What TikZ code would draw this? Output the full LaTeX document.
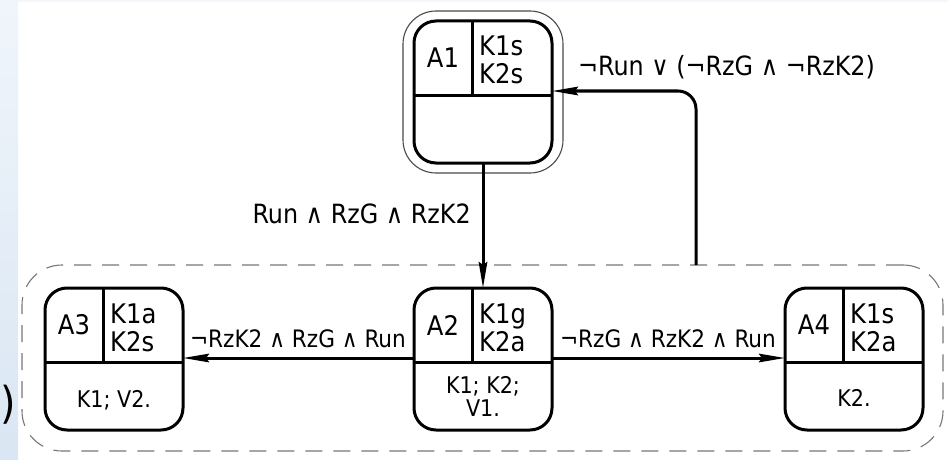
\documentclass[tikz,border=0pt]{standalone}
\usepackage{fontspec}
\setmainfont{DejaVu Sans Condensed}
\usetikzlibrary{arrows.meta,calc}
\definecolor{ringgray}{HTML}{4A4A4A}
\definecolor{dashgray}{HTML}{777777}
\definecolor{stripetop}{HTML}{F0F5FB}
\definecolor{stripebot}{HTML}{D9E6F3}
\definecolor{edgetint}{HTML}{F3F7FB}

\begin{document}
\begin{tikzpicture}[x=1pt,y=-1pt,
  statebox/.style={draw=black, line width=3pt, rounded corners=22pt,
    minimum width=138pt, minimum height=142pt, inner sep=0pt, outer sep=0pt},
  ringbox/.style={draw=ringgray, line width=1.1pt, rounded corners=33pt,
    minimum width=160pt, minimum height=162pt, inner sep=0pt, outer sep=0pt},
  groupbox/.style={draw=dashgray, line width=1.1pt, rounded corners=40pt,
    dash pattern=on 17pt off 11pt, minimum width=921pt, minimum height=186pt,
    inner sep=0pt, outer sep=0pt},
  divider/.style={line width=3pt},
  boxtext/.style={inner sep=0pt, font=\fontsize{27}{30}\selectfont},
  smalltext/.style={inner sep=0pt, font=\fontsize{23}{25}\selectfont},
  edgelabel/.style={inner sep=0pt, font=\fontsize{26.5}{30}\selectfont},
  sidelabel/.style={inner sep=0pt, font=\fontsize{24}{28}\selectfont},
  flow/.style={line width=3pt, -{Stealth[length=26pt,width=8.5pt,inset=3pt]}}
]
% canvas and margins
\fill[white] (0,0) rectangle (948,460);
\useasboundingbox (0,0) rectangle (948,460);
\shade[top color=stripetop, bottom color=stripebot] (0,0) rectangle (18,460);
\fill[edgetint] (18,0) rectangle (948,2);
\node[inner sep=0pt, font=\fontsize{44}{48}\selectfont] (paren) at (8,405) {)};

% dashed group around A2, A3, A4
\node[groupbox] (grp) at (482.5,358) {};

% states
\node[statebox] (a1) at (483,92) {};
\node[ringbox] (a1ring) at (483,92) {};
\node[statebox] (a3) at (114,359) {};
\node[statebox] (a2) at (483,359) {};
\node[statebox] (a4) at (854,359) {};

% compartments and texts of each state
\foreach \b/\nm/\ka/\kb in {a1/A1/K1s/K2s, a2/A2/K1g/K2a, a3/A3/K1a/K2s, a4/A4/K1s/K2a}{
  \draw[divider] ($(\b.north west)+(0,74)$) -- ($(\b.north east)+(0,74)$);
  \draw[divider] ($(\b.north west)+(58,0)$) -- ($(\b.north west)+(58,74)$);
  \node[boxtext] (\b-name) at ($(\b.north west)+(29,37)$) {\nm};
  \node[boxtext, anchor=base west] (\b-ka) at ($(\b.north west)+(65,35)$) {\ka};
  \node[boxtext, anchor=base west] (\b-kb) at ($(\b.north west)+(65,63)$) {\kb};
}
\node[smalltext, anchor=base] (a3-act) at ($(a3.north)+(0,119)$) {K1; V2.};
\node[smalltext, anchor=base] (a2-act1) at ($(a2.north)+(0,105)$) {K1; K2;};
\node[smalltext, anchor=base] (a2-act2) at ($(a2.north)+(0,128)$) {V1.};
\node[smalltext, anchor=base] (a4-act) at ($(a4.north)+(0,118)$) {K2.};

% transitions
\coordinate (a1in) at ($(a1.north east)+(0,70)$);
\coordinate (a2w) at ($(a2.north west)+(0,70)$);
\coordinate (a2e) at ($(a2.north east)+(0,70)$);
\coordinate (a3e) at ($(a3.north east)+(0,70)$);
\coordinate (a4w) at ($(a4.north west)+(0,70)$);
\coordinate (retbase) at (grp.north -| 696,0);

\draw[flow] (a1.south) -- (a2.north);
\draw[flow] (a2w) -- (a3e);
\draw[flow] (a2e) -- (a4w);
\draw[flow, rounded corners=18pt] (retbase) |- (a1in);

% guards
\node[edgelabel, anchor=base east] (g12) at (471,223) {Run ∧ RzG ∧ RzK2};
\node[edgelabel, anchor=base west] (g41) at (578,75) {¬Run ∨ (¬RzG ∧ ¬RzK2)};
\node[sidelabel, anchor=base] (g23) at (298,347) {¬RzK2 ∧ RzG ∧ Run};
\node[sidelabel, anchor=base] (g24) at (668,347) {¬RzG ∧ RzK2 ∧ Run};
\end{tikzpicture}
\end{document}
